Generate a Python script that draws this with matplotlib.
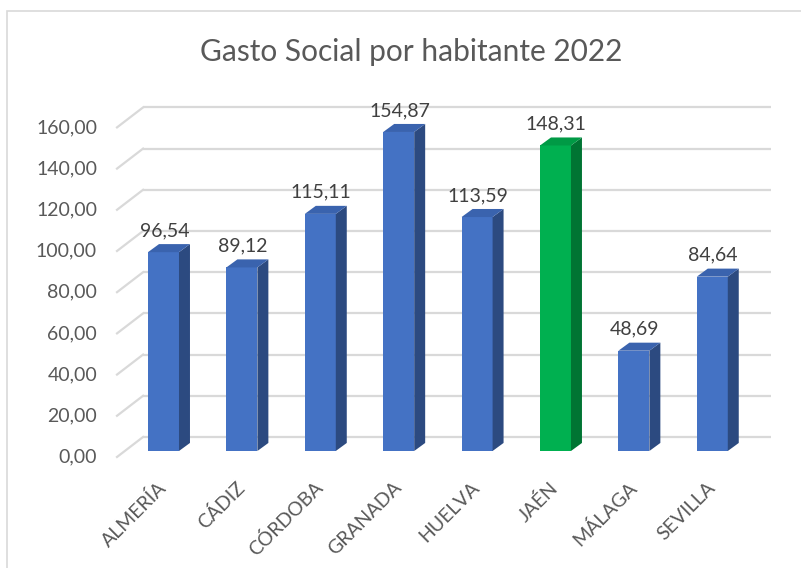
import matplotlib.pyplot as plt
from matplotlib.patches import Polygon, Rectangle
import numpy as np

plt.rcParams['font.family'] = ['Lato', 'DejaVu Sans']

provincias = ['ALMERÍA', 'CÁDIZ', 'CÓRDOBA', 'GRANADA', 'HUELVA', 'JAÉN', 'MÁLAGA', 'SEVILLA']
gasto = [96.54, 89.12, 115.11, 154.87, 113.59, 148.31, 48.69, 84.64]
destacada = 'JAÉN'
ticks_y = [0, 20, 40, 60, 80, 100, 120, 140, 160]
titulo = 'Gasto Social por habitante 2022'

# colores (frente, lado, arriba)
azul = ('#4472C4', '#2C4A80', '#3A63AE')
verde = ('#00B050', '#007433', '#009A45')
gris_txt = '#595959'
gris_grid = '#D9D9D9'

# falso 3D: desplazamientos en unidades de datos
ancho = 0.395
prof_dx, prof_dy = 0.14, 3.9          # profundidad de la barra
pared_x0, pared_dy = -0.261, 6.8      # plano del fondo
diag_dx, diag_dy = 0.332, 9.7         # diagonal del suelo/pared lateral
grid_x1 = 7.749

fig = plt.figure(figsize=(8.01, 5.68), dpi=100)
ax = fig.add_axes([0.1552, 0.2060, 0.7830, 0.6165])
ax.set_xlim(-0.5, 7.5)
ax.set_ylim(0, 170)
ax.axis('off')

# lineas de division (fondo + diagonal a la izquierda)
for v in ticks_y:
    yb = v + pared_dy
    ax.plot([pared_x0, grid_x1], [yb, yb], color=gris_grid, lw=1.6, zorder=1, clip_on=False,
            solid_capstyle='butt')
    ax.plot([pared_x0 - diag_dx, pared_x0], [yb - diag_dy, yb], color=gris_grid, lw=1.6,
            zorder=1, clip_on=False)
    ax.text(pared_x0 - diag_dx - 0.255, yb - diag_dy, '{:.2f}'.format(v).replace('.', ','),
            ha='right', va='center', fontsize=14, color=gris_txt)

x = np.arange(len(provincias))
for i, (p, v) in enumerate(zip(provincias, gasto)):
    frente, lado, arriba = verde if p == destacada else azul
    x0, x1 = i - ancho / 2, i + ancho / 2
    ax.bar(i, v, width=ancho, color=frente, zorder=3)
    ax.add_patch(Polygon([[x1, 0], [x1 + prof_dx, prof_dy], [x1 + prof_dx, v + prof_dy], [x1, v]],
                         closed=True, facecolor=lado, edgecolor='none', zorder=3))
    ax.add_patch(Polygon([[x0, v], [x0 + prof_dx, v + prof_dy], [x1 + prof_dx, v + prof_dy], [x1, v]],
                         closed=True, facecolor=arriba, edgecolor='none', zorder=3, clip_on=False))
    ax.text(i + 0.01, v + prof_dy + 3.9, '{:.2f}'.format(v).replace('.', ','),
            ha='center', va='baseline', fontsize=14, color='#404040', zorder=4)
    ax.text(i + 0.0, -16.5, p, ha='right', va='center', rotation=45, rotation_mode='anchor',
            fontsize=14, color=gris_txt)

fig.text(411 / 801, 1 - 52 / 568, titulo, ha='center', va='center', fontsize=21.5, color=gris_txt)

# borde del grafico
fig.patches.append(Rectangle((7 / 801, -0.1), 1.2, 1.1 - 11 / 568, transform=fig.transFigure,
                             fill=False, edgecolor=gris_grid, lw=1.2))

fig.savefig('out.png', dpi=100, facecolor='white')
